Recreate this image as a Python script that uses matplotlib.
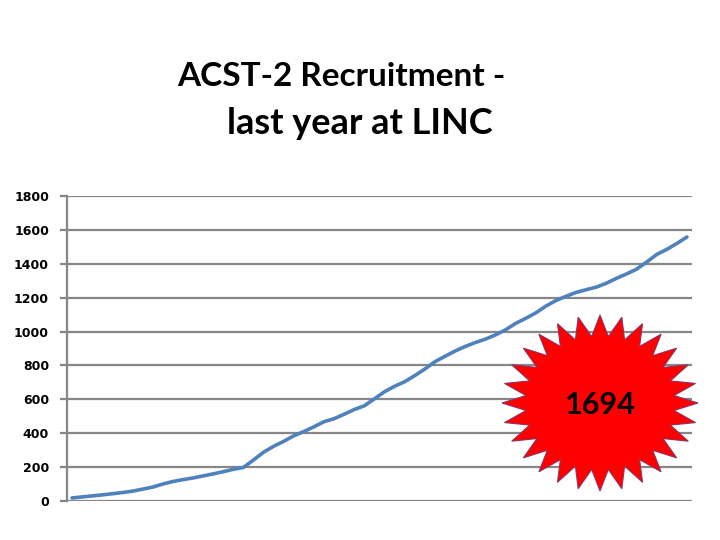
import numpy as np
import matplotlib
matplotlib.use('Agg')
import matplotlib.pyplot as plt
from matplotlib.patches import Polygon

# cumulative recruitment (one value per period)
recruits = [18, 24, 30, 36, 43, 50, 58, 70, 82, 100,
            115, 126, 136, 148, 160, 173, 187, 198, 242, 288,
            323, 352, 385, 410, 438, 468, 486, 512, 540, 562,
            603, 645, 677, 704, 740, 779, 822, 854, 885, 912,
            935, 955, 980, 1010, 1048, 1078, 1110, 1150, 1183, 1208,
            1231, 1247, 1262, 1285, 1314, 1340, 1368, 1410, 1455, 1485,
            1520, 1558]
yticks = [0, 200, 400, 600, 800, 1000, 1200, 1400, 1600, 1800]
title1 = 'ACST-2 Recruitment -'
title2 = 'last year at LINC'
total_label = '1694'

grey = '#878787'

fig = plt.figure(figsize=(7.2, 5.4), dpi=100)
ax = fig.add_axes([67/720, 39/540, 625/720, 305/540])

x = np.arange(len(recruits))
ax.plot(x, recruits, color='#4F81BD', lw=2.6, solid_capstyle='round', zorder=3)
ax.set_xlim(-0.5, len(recruits) - 0.5)
ax.set_ylim(0, 1800)
ax.set_yticks(yticks)
ax.set_xticks([])
ax.grid(axis='y', color=grey, lw=1.6)
ax.set_axisbelow(True)
for s in ['top', 'right', 'bottom']:
    ax.spines[s].set_visible(False)
ax.spines['left'].set_color(grey)
ax.spines['left'].set_linewidth(1.6)
ax.tick_params(axis='y', length=5, width=1.6, color=grey, pad=8,
               labelsize=9)
for lab in ax.get_yticklabels():
    lab.set_fontweight('bold')
    lab.set_family('DejaVu Sans')

fig.text(341/720, 1 - 77/540, title1, ha='center', va='center',
         fontsize=24, fontweight='bold', family='Lato')
fig.text(360/720, 1 - 123/540, title2, ha='center', va='center',
         fontsize=26, fontweight='bold', family='Lato')

# red starburst
sx = fig.add_axes([500/720, 47/540, 200/720, 180/540])
sx.set_xlim(-100, 100)
sx.set_ylim(-90, 90)
sx.axis('off')
n = 28
ang = np.linspace(0, 2*np.pi, 2*n, endpoint=False) + np.pi/2
r = np.where(np.arange(2*n) % 2 == 0, 1.0, 0.76)
pts = np.column_stack([98*r*np.cos(ang), 88*r*np.sin(ang)])
sx.add_patch(Polygon(pts, closed=True, facecolor='#FF0000',
                     edgecolor='#8E3060', lw=0.8))
sx.text(0, -2, total_label, ha='center', va='center', fontsize=22,
        fontweight='bold', family='Lato')

fig.savefig('out.png')
